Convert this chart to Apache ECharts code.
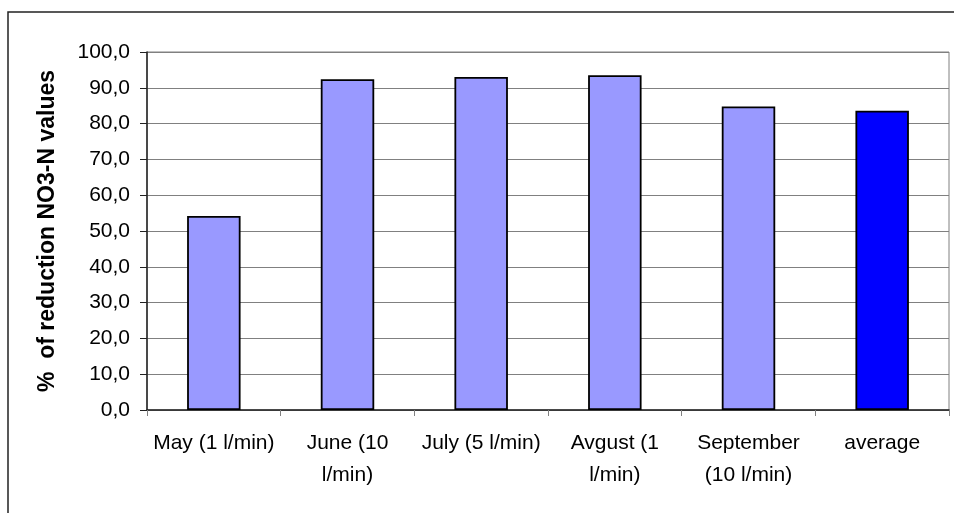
<!DOCTYPE html>
<html>
<head>
<meta charset="utf-8">
<script src="https://cdn.jsdelivr.net/npm/echarts@6/dist/echarts.min.js"></script>
<style>
  html, body { margin: 0; padding: 0; background: #fff; }
  #chart { width: 954px; height: 513px; }
</style>
</head>
<body>
<div id="chart"></div>
<script>
// Monthly NO3-N reduction (%) with flow rate, plus the overall average
const categories = ['May (1 l/min)', 'June (10\nl/min)', 'July (5 l/min)', 'Avgust (1\nl/min)', 'September\n(10 l/min)', 'average'];
const reduction = [54.2, 92.4, 93.0, 93.5, 84.8, 83.6];
const barColors = ['#9999FF', '#9999FF', '#9999FF', '#9999FF', '#9999FF', '#0000FF'];
const yTitle = '%  of reduction NO3-N values';

const FONT = '"Liberation Sans", Arial, sans-serif';

const chart = echarts.init(document.getElementById('chart'), null, { renderer: 'canvas' });
chart.setOption({
  animation: false,
  backgroundColor: '#fff',
  textStyle: { fontFamily: FONT },
  graphic: [{
    type: 'rect',
    shape: { x: 8, y: 12, width: 1000, height: 600 },
    style: { fill: 'none', stroke: '#222', lineWidth: 1.5 },
    silent: true
  }],
  grid: {
    left: 147, top: 52, right: 5, bottom: 103,
    show: true, borderColor: '#808080', borderWidth: 1, backgroundColor: '#fff'
  },
  xAxis: {
    type: 'category',
    data: categories,
    axisLine: { lineStyle: { color: '#222', width: 1.5 } },
    axisTick: { show: true, alignWithLabel: false, length: 6, lineStyle: { color: '#808080' } },
    axisLabel: { color: '#000', fontSize: 21, fontFamily: FONT, lineHeight: 32, margin: 17, interval: 0 }
  },
  yAxis: {
    type: 'value',
    min: 0, max: 100, interval: 10,
    name: yTitle,
    nameLocation: 'middle',
    nameGap: 88,
    nameTextStyle: { color: '#000', fontSize: 23, fontWeight: 'bold', fontFamily: FONT },
    axisLine: { show: true, lineStyle: { color: '#222', width: 1.5 } },
    axisTick: { show: true, length: 7, lineStyle: { color: '#222' } },
    axisLabel: {
      color: '#000', fontSize: 21, fontFamily: FONT, margin: 17,
      formatter: v => v.toFixed(1).replace('.', ',')
    },
    splitLine: { lineStyle: { color: '#808080', width: 1 } }
  },
  series: [{
    type: 'bar',
    data: reduction.map((v, i) => ({ value: v, itemStyle: { color: barColors[i] } })),
    barWidth: '40%',
    itemStyle: { borderColor: '#000', borderWidth: 1.8 }
  }]
});
</script>
</body>
</html>
